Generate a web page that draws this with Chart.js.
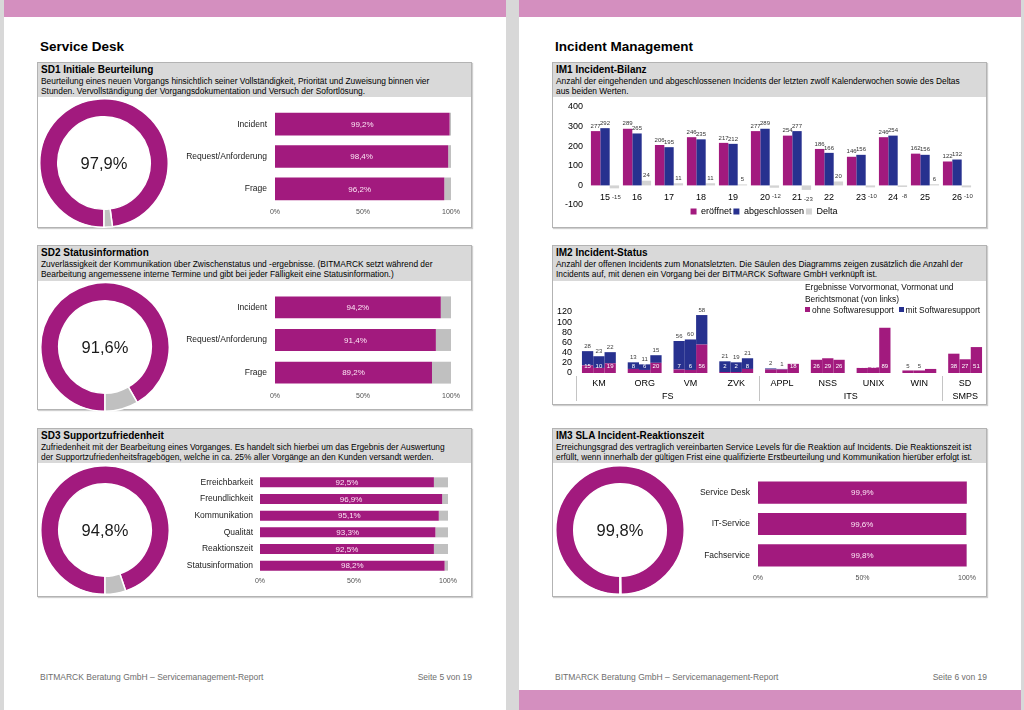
<!DOCTYPE html>
<html lang="de">
<head>
<meta charset="utf-8">
<title>Servicemanagement-Report</title>
<script src="https://cdn.jsdelivr.net/npm/chart.js@4.4.1/dist/chart.umd.min.js"></script>
<style>
  html, body { margin: 0; padding: 0; }
  body { width: 1024px; height: 710px; background: #d8d8d8; position: relative; overflow: hidden;
         font-family: 'Liberation Sans', Arial, sans-serif; color: #000; }
  .page { position: absolute; top: 0; height: 710px; width: 502px; background: #fff; }
  .band { position: absolute; background: #d48fbf; }
  .h1 { position: absolute; top: 39px; font-weight: bold; font-size: 13.5px; }
  .box { position: absolute; box-sizing: border-box; border: 1px solid #b3b3b3; box-shadow: 1px 1px 1px #cfcfcf; background: #fff; }
  .head { background: #d9d9d9; height: 34px; padding: 0 3px; white-space: nowrap; }
  .head b { display: block; font-size: 10px; line-height: 12px; padding-top: 1px; }
  .head span { display: block; font-size: 8.4px; line-height: 10px; }
  canvas { position: absolute; }
  .foot { position: absolute; top: 672px; font-size: 8.5px; color: #6e6e6e; }
  #im2Legende { position: absolute; left: 805px; top: 282px; font-size: 8.4px; line-height: 11.5px; color: #111; white-space: nowrap; }
  #im2Legende i { display: inline-block; width: 5px; height: 5px; margin-right: 2px; vertical-align: 1px; }
</style>
</head>
<body>
<div class="page" style="left:4px"></div>
<div class="page" style="left:519px"></div>
<div class="band" style="left:4px;top:0;width:502px;height:17px"></div>
<div class="band" style="left:519px;top:0;width:502px;height:17px"></div>
<div class="band" style="left:519px;top:690px;width:502px;height:20px"></div>

<div class="h1" style="left:40px">Service Desk</div>
<div class="h1" style="left:555px">Incident Management</div>

<div class="box" style="left:37px;top:62px;width:435px;height:166px">
  <div class="head"><b>SD1 Initiale Beurteilung</b>
  <span>Beurteilung eines neuen Vorgangs hinsichtlich seiner Vollständigkeit, Priorität und Zuweisung binnen vier</span>
  <span>Stunden. Vervollständigung der Vorgangsdokumentation und Versuch der Sofortlösung.</span></div>
</div>
<div class="box" style="left:37px;top:245px;width:435px;height:165px">
  <div class="head" style="height:35px"><b>SD2 Statusinformation</b>
  <span>Zuverlässigkeit der Kommunikation über Zwischenstatus und -ergebnisse. (BITMARCK setzt während der</span>
  <span>Bearbeitung angemessene interne Termine und gibt bei jeder Fälligkeit eine Statusinformation.)</span></div>
</div>
<div class="box" style="left:37px;top:428px;width:435px;height:169px">
  <div class="head"><b>SD3 Supportzufriedenheit</b>
  <span>Zufriedenheit mit der Bearbeitung eines Vorganges. Es handelt sich hierbei um das Ergebnis der Auswertung</span>
  <span>der Supportzufriedenheitsfragebögen, welche in ca. 25% aller Vorgänge an den Kunden versandt werden.</span></div>
</div>
<div class="box" style="left:552px;top:62px;width:435px;height:166px">
  <div class="head"><b>IM1 Incident-Bilanz</b>
  <span>Anzahl der eingehenden und abgeschlossenen Incidents der letzten zwölf Kalenderwochen sowie des Deltas</span>
  <span>aus beiden Werten.</span></div>
</div>
<div class="box" style="left:552px;top:245px;width:435px;height:160px">
  <div class="head" style="height:35px"><b>IM2 Incident-Status</b>
  <span>Anzahl der offenen Incidents zum Monatsletzten. Die Säulen des Diagramms zeigen zusätzlich die Anzahl der</span>
  <span>Incidents auf, mit denen ein Vorgang bei der BITMARCK Software GmbH verknüpft ist.</span></div>
</div>
<div class="box" style="left:552px;top:428px;width:435px;height:169px">
  <div class="head"><b>IM3 SLA Incident-Reaktionszeit</b>
  <span>Erreichungsgrad des vertraglich vereinbarten Service Levels für die Reaktion auf Incidents. Die Reaktionszeit ist</span>
  <span>erfüllt, wenn innerhalb der gültigen Frist eine qualifizierte Erstbeurteilung und Kommunikation hierüber erfolgt ist.</span></div>
</div>

<canvas id="sd1Ring" width="130" height="130" style="left:39px;top:98px"></canvas>
<canvas id="sd1Balken" width="295" height="116" style="left:170px;top:104px"></canvas>
<canvas id="sd2Ring" width="130" height="130" style="left:40px;top:282px"></canvas>
<canvas id="sd2Balken" width="295" height="117" style="left:170px;top:287px"></canvas>
<canvas id="sd3Ring" width="130" height="130" style="left:40px;top:465px"></canvas>
<canvas id="sd3Balken" width="310" height="119" style="left:150px;top:470px"></canvas>
<canvas id="im1" width="428" height="128" style="left:555px;top:98px"></canvas>
<canvas id="im2" width="433" height="117" style="left:555px;top:287px"></canvas>
<div id="im2Legende"></div>
<canvas id="im3Ring" width="130" height="130" style="left:555px;top:465px"></canvas>
<canvas id="im3Balken" width="320" height="113" style="left:660px;top:473px"></canvas>

<div class="foot" style="left:40px">BITMARCK Beratung GmbH – Servicemanagement-Report</div>
<div class="foot" style="left:400px;width:72px;text-align:right">Seite 5 von 19</div>
<div class="foot" style="left:555px">BITMARCK Beratung GmbH – Servicemanagement-Report</div>
<div class="foot" style="left:915px;width:72px;text-align:right">Seite 6 von 19</div>

<script>
// SD1 Initiale Beurteilung
var sd1Kategorien = ["Incident", "Request/Anforderung", "Frage"];
var sd1Werte = [99.2, 98.4, 96.2];
var sd1Gesamt = 97.9;

// SD2 Statusinformation
var sd2Kategorien = ["Incident", "Request/Anforderung", "Frage"];
var sd2Werte = [94.2, 91.4, 89.2];
var sd2Gesamt = 91.6;

// SD3 Supportzufriedenheit
var sd3Kategorien = ["Erreichbarkeit", "Freundlichkeit", "Kommunikation", "Qualität", "Reaktionszeit", "Statusinformation"];
var sd3Werte = [92.5, 96.9, 95.1, 93.3, 92.5, 98.2];
var sd3Gesamt = 94.8;

// IM3 SLA Incident-Reaktionszeit
var im3Kategorien = ["Service Desk", "IT-Service", "Fachservice"];
var im3Werte = [99.9, 99.6, 99.8];
var im3Gesamt = 99.8;

var prozentTicks = [0, 50, 100];

// IM1 Incident-Bilanz
var kalenderwochen = ["15", "16", "17", "18", "19", "20", "21", "22", "23", "24", "25", "26"];
var eroeffnet = [277, 289, 206, 246, 217, 277, 254, 186, 146, 246, 162, 122];
var abgeschlossen = [292, 265, 195, 235, 212, 289, 277, 166, 156, 254, 156, 132];
var delta = [-15, 24, 11, 11, 5, -12, -23, 20, -10, -8, 6, -10];
var im1Serien = ["eröffnet", "abgeschlossen", "Delta"];

// IM2 Incident-Status
var im2Kategorien = ["KM", "ORG", "VM", "ZVK", "APPL", "NSS", "UNIX", "WIN", "SD"];
var im2Gruppen = ["FS", "ITS", "SMPS"];
var im2GruppenAnzahl = [4, 4, 1];
var im2Serien = ["ohne Softwaresupport", "mit Softwaresupport"];
var ohneVorvormonat = [15, 8, 7, 2, 7, 26, 10, 5, 38];
var ohneVormonat = [10, 6, 6, 2, 7, 29, 11, 5, 27];
var ohneBerichtsmonat = [19, 20, 56, 8, 18, 26, 89, 8, 51];
var mitVorvormonat = [28, 13, 56, 21, 2, 0, 0, 0, 0];
var mitVormonat = [23, 11, 60, 19, 1, 0, 0, 0, 0];
var mitBerichtsmonat = [22, 15, 58, 21, 0, 0, 0, 0, 0];

var MAGENTA = "#a21a7e";
var BLAU = "#27318f";
var GRAU = "#c0c0c0";
var SCHRIFT = "'Liberation Sans', Arial, sans-serif";

Chart.defaults.font.family = SCHRIFT;
Chart.defaults.color = "#1a1a1a";
Chart.defaults.animation = false;

function komma(v) {
  return v.toFixed(1).replace(".", ",") + "%";
}

// Achse ohne Zusatzabstand oben/unten, feste Breite
function festeBreite(w) {
  return function (s) {
    s.width = w;
    s.paddingTop = 0;
    s.paddingBottom = 0;
  };
}

// Text in der Mitte der Ringe
var mitteText = {
  id: "mitteText",
  afterDraw: function (chart, args, opts) {
    var ctx = chart.ctx, a = chart.chartArea;
    ctx.save();
    ctx.font = "16.5px " + SCHRIFT;
    ctx.fillStyle = "#1a1a1a";
    ctx.textAlign = "center";
    ctx.textBaseline = "middle";
    ctx.fillText(opts.text, (a.left + a.right) / 2, (a.top + a.bottom) / 2 + 1);
    ctx.restore();
  }
};

// Prozentwerte in den Balken
var balkenWerte = {
  id: "balkenWerte",
  afterDatasetsDraw: function (chart) {
    var ctx = chart.ctx;
    var werte = chart.data.datasets[0].data;
    ctx.save();
    ctx.font = "8px " + SCHRIFT;
    ctx.fillStyle = "#fde6f5";
    ctx.textAlign = "center";
    ctx.textBaseline = "middle";
    chart.getDatasetMeta(0).data.forEach(function (bar, i) {
      ctx.fillText(komma(werte[i]), (bar.x + bar.base) / 2, bar.y + 0.5);
    });
    ctx.restore();
  }
};

function ring(id, wert) {
  return new Chart(document.getElementById(id), {
    type: "doughnut",
    data: {
      datasets: [{
        data: [wert, 100 - wert],
        backgroundColor: [MAGENTA, GRAU],
        borderColor: "#fff",
        borderWidth: 1.5
      }]
    },
    options: {
      responsive: false,
      cutout: "72%",
      rotation: 180,
      plugins: { legend: { display: false }, tooltip: { enabled: false }, mitteText: { text: komma(wert) } }
    },
    plugins: [mitteText]
  });
}

function balken(id, kategorien, werte, yBreite, rechts, barAnteil, abstand) {
  return new Chart(document.getElementById(id), {
    type: "bar",
    data: {
      labels: kategorien,
      datasets: [
        { data: werte, backgroundColor: MAGENTA },
        { data: werte.map(function (v) { return 100 - v; }), backgroundColor: GRAU }
      ]
    },
    options: {
      indexAxis: "y",
      responsive: false,
      layout: { padding: { top: 4, right: rechts, left: 0, bottom: 0 } },
      datasets: { bar: { categoryPercentage: 1, barPercentage: barAnteil } },
      scales: {
        x: {
          stacked: true, min: 0, max: 100,
          grid: { display: false, drawTicks: false }, border: { display: false },
          afterBuildTicks: function (s) { s.ticks = prozentTicks.map(function (v) { return { value: v }; }); },
          ticks: { padding: 3, font: { size: 7 }, color: "#505050", callback: function (v) { return v + "%"; } },
          afterFit: function (s) { s.height = 15; }
        },
        y: {
          stacked: true,
          grid: { display: false, drawTicks: false }, border: { display: false },
          ticks: { padding: abstand, font: { size: 8.5 }, color: "#1a1a1a" },
          afterFit: festeBreite(yBreite)
        }
      },
      plugins: { legend: { display: false }, tooltip: { enabled: false } }
    },
    plugins: [balkenWerte]
  });
}

ring("sd1Ring", sd1Gesamt);
balken("sd1Balken", sd1Kategorien, sd1Werte, 105, 14, 0.7, 8);
ring("sd2Ring", sd2Gesamt);
balken("sd2Balken", sd2Kategorien, sd2Werte, 105, 14, 0.67, 8);
ring("sd3Ring", sd3Gesamt);
balken("sd3Balken", sd3Kategorien, sd3Werte, 110, 12, 0.6, 7);
ring("im3Ring", im3Gesamt);
balken("im3Balken", im3Kategorien, im3Werte, 98, 13, 0.71, 8);

// IM1: Zahlen über/unter den Säulen
var saeulenWerte = {
  id: "saeulenWerte",
  afterDatasetsDraw: function (chart) {
    var ctx = chart.ctx;
    ctx.save();
    ctx.font = "6px " + SCHRIFT;
    ctx.fillStyle = "#333";
    ctx.textAlign = "center";
    chart.data.datasets.forEach(function (ds, d) {
      chart.getDatasetMeta(d).data.forEach(function (bar, i) {
        var v = ds.data[i];
        if (v >= 0) {
          ctx.textBaseline = "bottom";
          ctx.fillText(v, bar.x, bar.y - 2);
        } else {
          ctx.textBaseline = "top";
          ctx.fillText(v, bar.x + 2, bar.y + 6);
        }
      });
    });
    ctx.restore();
  }
};

new Chart(document.getElementById("im1"), {
  type: "bar",
  data: {
    labels: kalenderwochen,
    datasets: [
      { label: im1Serien[0], data: eroeffnet, backgroundColor: MAGENTA },
      { label: im1Serien[1], data: abgeschlossen, backgroundColor: BLAU },
      { label: im1Serien[2], data: delta, backgroundColor: "#d3d3d3" }
    ]
  },
  options: {
    responsive: false,
    layout: { padding: { top: 9, right: 10 } },
    datasets: { bar: { categoryPercentage: 0.88, barPercentage: 1 } },
    scales: {
      x: {
        position: { y: 0 },
        grid: { display: false, drawTicks: false }, border: { display: false },
        ticks: { padding: 7, font: { size: 9 }, color: "#000" }
      },
      y: {
        min: -100, max: 400,
        grid: { display: false, drawTicks: false }, border: { display: false },
        ticks: { stepSize: 100, padding: 6, font: { size: 9 }, color: "#000" },
        afterFit: festeBreite(34)
      }
    },
    plugins: {
      legend: { position: "bottom", labels: { boxWidth: 6, boxHeight: 6, padding: 2, font: { size: 9 }, color: "#000" } },
      tooltip: { enabled: false }
    }
  },
  plugins: [saeulenWerte]
});

// IM2: gestapelte Säulen, je Kategorie drei Monate nebeneinander
var ohne = [ohneVorvormonat, ohneVormonat, ohneBerichtsmonat];
var mit = [mitVorvormonat, mitVormonat, mitBerichtsmonat];
var im2Datasets = [];
for (var k = 0; k < 3; k++) {
  im2Datasets.push({ label: im2Serien[0], data: ohne[k], backgroundColor: MAGENTA, stack: "m" + k });
  im2Datasets.push({ label: im2Serien[1], data: mit[k], backgroundColor: BLAU, stack: "m" + k });
}

var stapelWerte = {
  id: "stapelWerte",
  afterDatasetsDraw: function (chart) {
    var ctx = chart.ctx;
    ctx.save();
    ctx.font = "6px " + SCHRIFT;
    ctx.textAlign = "center";
    ctx.textBaseline = "middle";
    for (var k = 0; k < 3; k++) {
      var metaOhne = chart.getDatasetMeta(2 * k);
      var metaMit = chart.getDatasetMeta(2 * k + 1);
      metaOhne.data.forEach(function (bar, i) {
        var v = ohne[k][i], m = mit[k][i];
        if (v > 0) {
          ctx.fillStyle = (v + m) >= 8 ? "#fff" : "#404040";
          ctx.fillText(v, bar.x, bar.base - 7);
        }
        if (m > 0) {
          ctx.fillStyle = "#404040";
          ctx.fillText(m, bar.x, metaMit.data[i].y - 5);
        }
      });
    }
    ctx.restore();
  }
};

var gruppenAchse = {
  id: "gruppenAchse",
  afterDraw: function (chart) {
    var ctx = chart.ctx, a = chart.chartArea;
    var breite = (a.right - a.left) / im2Kategorien.length;
    var oben = a.bottom + 3, unten = a.bottom + 28;
    ctx.save();
    ctx.strokeStyle = "#c4c4c4";
    ctx.lineWidth = 1;
    ctx.font = "9px " + SCHRIFT;
    ctx.fillStyle = "#000";
    ctx.textAlign = "center";
    ctx.textBaseline = "middle";
    var start = 0;
    im2Gruppen.forEach(function (g, n) {
      var x0 = Math.round(a.left + start * breite) + 0.5;
      ctx.beginPath();
      ctx.moveTo(x0, oben);
      ctx.lineTo(x0, unten);
      ctx.stroke();
      var x1 = a.left + (start + im2GruppenAnzahl[n]) * breite;
      ctx.fillText(g, (x0 + x1) / 2, a.bottom + 24);
      start += im2GruppenAnzahl[n];
    });
    ctx.restore();
  }
};

new Chart(document.getElementById("im2"), {
  type: "bar",
  data: { labels: im2Kategorien, datasets: im2Datasets },
  options: {
    responsive: false,
    layout: { padding: { top: 25, right: 0 } },
    datasets: { bar: { categoryPercentage: 0.74, barPercentage: 1 } },
    scales: {
      x: {
        stacked: true,
        grid: { display: false, drawTicks: false }, border: { display: false },
        ticks: { padding: 5, font: { size: 9 }, color: "#000" },
        afterFit: function (s) { s.height = 31; }
      },
      y: {
        stacked: true, min: 0, max: 120,
        grid: { display: false, drawTicks: false }, border: { display: false },
        ticks: { stepSize: 20, autoSkip: false, padding: 4, font: { size: 9 }, color: "#000" },
        afterFit: festeBreite(21)
      }
    },
    plugins: { legend: { display: false }, tooltip: { enabled: false } }
  },
  plugins: [stapelWerte, gruppenAchse]
});

// Legende IM2
var legende = document.getElementById("im2Legende");
legende.innerHTML = "Ergebnisse Vorvormonat, Vormonat und<br>Berichtsmonat (von links)<br>" +
  "<i style='background:" + MAGENTA + "'></i>" + im2Serien[0] + " &nbsp;" +
  "<i style='background:" + BLAU + "'></i>" + im2Serien[1];
</script>
</body>
</html>
